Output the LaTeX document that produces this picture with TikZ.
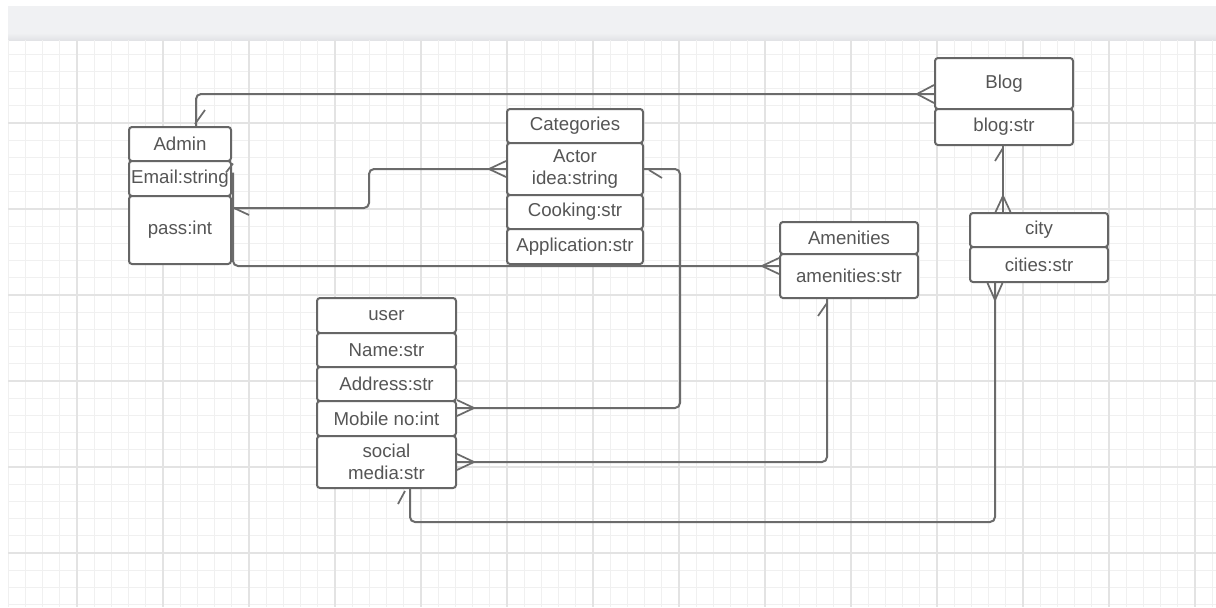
\documentclass[tikz,border=0pt]{standalone}
\usepackage{fontspec}
\setmainfont{Liberation Sans}
\usetikzlibrary{calc}
\definecolor{txtc}{HTML}{555555}
\definecolor{boxc}{HTML}{666666}
\definecolor{linec}{HTML}{6B6B6B}
\definecolor{barc}{HTML}{F0F1F3}
\definecolor{barb}{HTML}{E2E3E6}
\definecolor{gminor}{HTML}{F0F0F0}
\definecolor{gmajor}{HTML}{E3E3E3}
\tikzset{
  rowbox/.style={draw=boxc, line width=1.5pt, rounded corners=2.25pt, fill=white,
    inner sep=0pt, text=txtc, font=\fontsize{14}{16.5}\selectfont, align=center},
  conn/.style={draw=linec, line width=1.5pt, rounded corners=3.75pt},
  crow/.style={draw=linec, line width=1.3pt},
  gridminor/.style={draw=gminor, line width=0.6pt},
  gridmajor/.style={draw=gmajor, line width=0.8pt}
}
\begin{document}
\begin{tikzpicture}[x=0.75pt,y=-0.75pt]
\useasboundingbox (0,0) rectangle (1216,607);
\fill[white] (0,0) rectangle (1216,607);
% top bar
\fill[barc] (8,6) rectangle (1216,33);
\shade[top color=barc, bottom color=barb] (8,33) rectangle (1216,40);
% grid
\foreach \k in {0,...,70} {
  \pgfmathsetmacro\gx{8.2+17.2*\k}
  \draw[gridminor] (\gx,40) -- (\gx,607);
}
\foreach \k in {1,...,33} {
  \pgfmathsetmacro\gy{37+17.2*\k}
  \draw[gridminor] (8,\gy) -- (1216,\gy);
}
\foreach \k in {0,...,13} {
  \pgfmathsetmacro\gx{77+86*\k}
  \draw[gridmajor] (\gx,40) -- (\gx,607);
}
\foreach \k in {1,...,6} {
  \pgfmathsetmacro\gy{37+86*\k}
  \draw[gridmajor] (8,\gy) -- (1216,\gy);
}

% ---------- entities ----------
% Admin
\node[rowbox, minimum width=76.5pt, minimum height=25.5pt] (adminH) at (180,144) {Admin};
\node[rowbox, minimum width=76.5pt, minimum height=26.25pt] (adminE) at (180,178.5) {Email:string};
\node[rowbox, minimum width=76.5pt, minimum height=51pt] (adminP) at (180,230) {\raisebox{3pt}{pass:int}};
% Categories
\node[rowbox, minimum width=102pt, minimum height=25.5pt] (catH) at (575,126) {Categories};
\node[rowbox, minimum width=102pt, minimum height=39pt] (catA) at (575,169) {Actor\\idea:string};
\node[rowbox, minimum width=102pt, minimum height=25.5pt] (catC) at (575,212) {Cooking:str};
\node[rowbox, minimum width=102pt, minimum height=26.25pt] (catP) at (575,246.5) {Application:str};
% Blog
\node[rowbox, minimum width=103.5pt, minimum height=38.25pt] (blogH) at (1004,83.5) {Blog};
\node[rowbox, minimum width=103.5pt, minimum height=27pt] (blogS) at (1004,127) {blog:str};
% Amenities
\node[rowbox, minimum width=103.5pt, minimum height=24pt] (amH) at (849,238) {Amenities};
\node[rowbox, minimum width=103.5pt, minimum height=33pt] (amS) at (849,276) {amenities:str};
% city
\node[rowbox, minimum width=103.5pt, minimum height=25.5pt] (cityH) at (1039,230) {city};
\node[rowbox, minimum width=103.5pt, minimum height=26.25pt] (cityS) at (1039,264.5) {cities:str};
% user
\node[rowbox, minimum width=104.25pt, minimum height=26.25pt] (uH) at (386.5,315.5) {user};
\node[rowbox, minimum width=104.25pt, minimum height=25.5pt] (uN) at (386.5,350) {Name:str};
\node[rowbox, minimum width=104.25pt, minimum height=25.5pt] (uA) at (386.5,384) {Address:str};
\node[rowbox, minimum width=104.25pt, minimum height=26.25pt] (uM) at (386.5,418.5) {Mobile no:int};
\node[rowbox, minimum width=104.25pt, minimum height=39pt] (uS) at (386.5,462) {\raisebox{-5pt}{\parbox{90pt}{\centering social\\media:str}}};

% ---------- connectors ----------
% Blog -- Admin
\draw[conn] ($(blogH.west)+(0,10.5)$) -| ($(adminH.north)+(16,0)$);
\draw[crow] ($(blogH.west)+(0,10.5)$) ++(-17,0) -- ++(17,-9) ++(-17,9) -- ++(17,9);
\draw[crow] ($(adminH.north)+(15,-2)$) -- ++(10,-14);

% Admin -- Categories (Actor idea)
\draw[conn] ($(adminP.east)+(0,-22)$) -| ($(catA.west)+(-137,0)$) -- (catA.west);
\draw[crow] (catA.west) ++(-17,0) -- ++(17,-8) ++(-17,8) -- ++(17,8);
\draw[crow] ($(adminP.east)+(2,-22)$) -- ++(15,7);

% user Mobile -- Categories (Actor idea)
\draw[conn] ($(uM.east)+(0,-10.5)$) -| ($(catA.east)+(36,0)$) -- (catA.east);
\draw[crow] ($(uM.east)+(0,-10.5)$) ++(17,0) -- ++(-17,-8) ++(17,8) -- ++(-17,8);
\draw[crow] ($(catA.east)+(5,1)$) -- ++(13,8);

% user social -- Amenities
\draw[conn] (uS.east) -| ($(amS.south)+(-22,0)$);
\draw[crow] (uS.east) ++(17,0) -- ++(-17,-8) ++(17,8) -- ++(-17,8);
\draw[crow] ($(amS.south)+(-22,4)$) -- ++(-9,13);

% user -- city
\draw[conn] ($(uS.south)+(23.5,0)$) -- ++(0,33) -| ($(cityS.south)+(-44,0)$);
\draw[crow] ($(cityS.south)+(-44,0)$) ++(0,17) -- ++(-7.5,-17) ++(7.5,17) -- ++(7.5,-17);
\draw[crow] ($(uS.south)+(18.5,2)$) -- ++(-7,13);

% Blog -- city
\draw[conn] ($(blogS.south)+(-1,0)$) -- ($(cityH.north)+(-36,0)$);
\draw[crow] ($(cityH.north)+(-36,0)$) ++(0,-16) -- ++(-7.5,16) ++(7.5,-16) -- ++(7.5,16);
\draw[crow] ($(blogS.south)+(-1,2)$) -- ++(-8,13);

% Amenities -- Admin
\draw[conn] ($(amS.west)+(0,-10)$) -| ($(adminE.east)+(1,-6)$);
\draw[crow] ($(amS.west)+(0,-10)$) ++(-17,0) -- ++(17,-8) ++(-17,8) -- ++(17,8);
\draw[crow] ($(adminE.east)+(1,-15)$) -- ++(-7,9);
\end{tikzpicture}
\end{document}
